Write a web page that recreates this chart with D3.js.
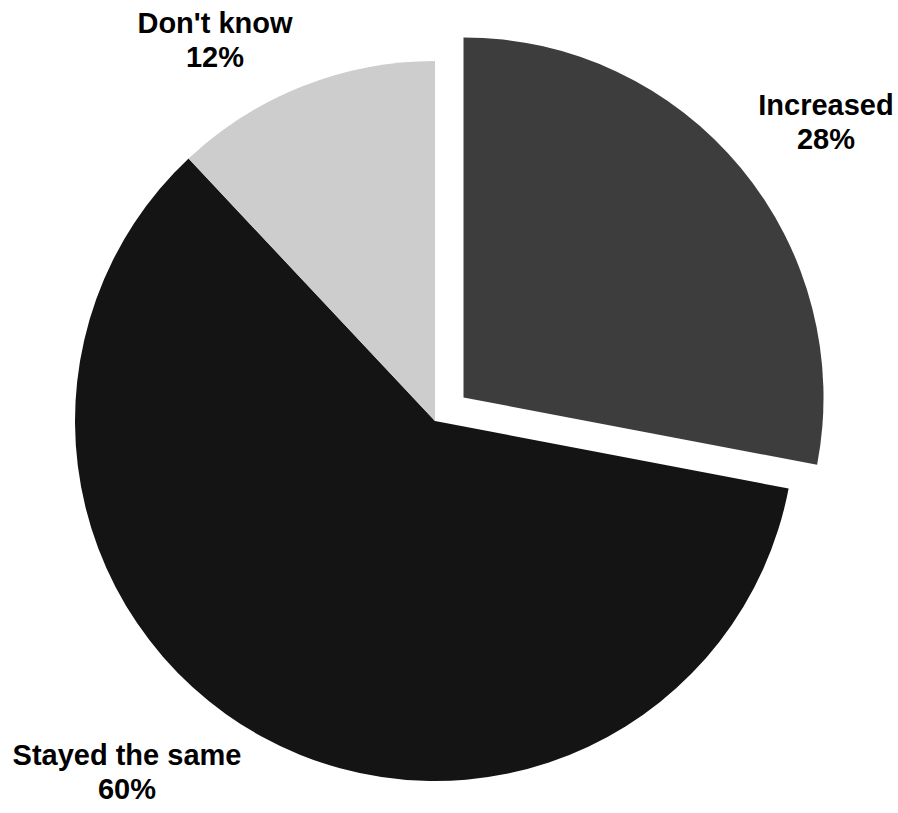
<!DOCTYPE html>
<html>
<head>
<meta charset="utf-8">
<script src="https://cdn.jsdelivr.net/npm/d3@7/dist/d3.min.js"></script>
<style>
  html, body { margin: 0; padding: 0; background: #ffffff; }
  svg { display: block; }
  text { font-family: "Liberation Sans", Arial, sans-serif; font-weight: bold; fill: #000; }
</style>
</head>
<body>
<svg id="chart" width="898" height="813"></svg>
<script>
// Survey answers, in clockwise order starting at 12 o'clock
const categories = ["Increased", "Stayed the same", "Don't know"];
const percents = [28, 60, 12];
const sliceColors = ["#3d3d3d", "#141414", "#cdcdcd"];

// Label anchor points (centre of the two-line label block, first baseline)
const labelAnchors = [[826, 115], [127, 765], [215, 33]];

const width = 898, height = 813;
const cx = 435, cy = 421, radius = 360;
const explode = 37; // the "Increased" slice is pulled out from the centre

const svg = d3.select("#chart");
const g = svg.append("g").attr("transform", `translate(${cx},${cy})`);

const pie = d3.pie().sort(null).value(d => d.value);
const arc = d3.arc().innerRadius(0).outerRadius(radius);

const data = categories.map((c, i) => ({ name: c, value: percents[i], color: sliceColors[i] }));
const arcs = pie(data);

g.selectAll("path.slice")
  .data(arcs)
  .join("path")
  .attr("class", "slice")
  .attr("d", arc)
  .attr("fill", d => d.data.color)
  .attr("transform", (d, i) => {
    if (i !== 0) return null;
    const mid = (d.startAngle + d.endAngle) / 2;
    return `translate(${Math.sin(mid) * explode},${-Math.cos(mid) * explode})`;
  });

const labels = svg.selectAll("text.label")
  .data(arcs)
  .join("text")
  .attr("class", "label")
  .attr("text-anchor", "middle")
  .attr("font-size", 29)
  .attr("x", (d, i) => labelAnchors[i][0])
  .attr("y", (d, i) => labelAnchors[i][1]);

labels.append("tspan")
  .attr("x", (d, i) => labelAnchors[i][0])
  .text(d => d.data.name);
labels.append("tspan")
  .attr("x", (d, i) => labelAnchors[i][0])
  .attr("dy", 34)
  .text(d => d.data.value + "%");
</script>
</body>
</html>
